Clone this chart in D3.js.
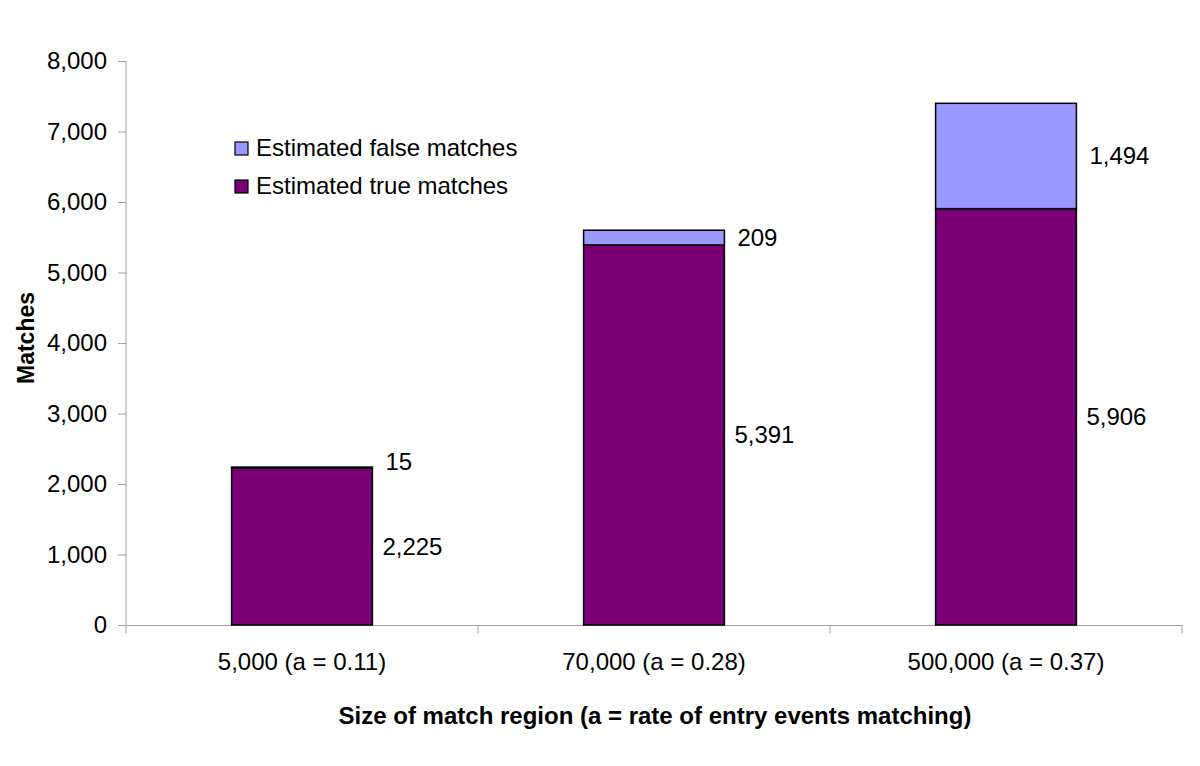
<!DOCTYPE html>
<html>
<head>
<meta charset="utf-8">
<script src="https://cdn.jsdelivr.net/npm/d3@7"></script>
<style>
  body { margin: 0; background: #fff; }
  svg { display: block; font-family: 'Liberation Sans', Arial, sans-serif; }
</style>
</head>
<body>
<div id="chart"></div>
<script>
/* ── DATA ── */
const categories   = ['5,000 (a = 0.11)', '70,000 (a = 0.28)', '500,000 (a = 0.37)'];
const trueMatches  = [2225, 5391, 5906];
const falseMatches = [15, 209, 1494];
const yTicks       = [0, 1000, 2000, 3000, 4000, 5000, 6000, 7000, 8000];
const seriesNames  = ['Estimated false matches', 'Estimated true matches'];

/* ── CONSTANTS ── */
const W = 1200, H = 766;
const MARGIN = { top: 61, right: 18, bottom: 141, left: 126 };
const TRUE_COLOR  = '#7b0078';
const FALSE_COLOR = '#9999ff';
const AXIS_COLOR  = '#a0a0a0';
const FONT_SIZE   = 24;

const innerW = W - MARGIN.left - MARGIN.right;
const innerH = H - MARGIN.top - MARGIN.bottom;

const svg = d3.select('#chart').append('svg').attr('width', W).attr('height', H);
const g   = svg.append('g').attr('transform', `translate(${MARGIN.left},${MARGIN.top})`);

const x = d3.scaleBand().domain(categories).range([0, innerW]).padding(0);
const y = d3.scaleLinear().domain([0, 8000]).range([innerH, 0]);
const barW = x.bandwidth() * 0.4;
const fmt = d3.format(',');

/* axes */
g.append('g').attr('transform', `translate(0,${innerH})`)
  .call(d3.axisBottom(x).tickSize(0).tickPadding(28))
  .call(ax => ax.select('.domain').attr('stroke', AXIS_COLOR))
  .call(ax => ax.selectAll('text').style('font-size', FONT_SIZE + 'px').attr('fill', '#000'));

// category boundary ticks on the x axis
g.append('g').selectAll('line')
  .data(d3.range(categories.length + 1))
  .join('line')
  .attr('x1', i => i * x.step()).attr('x2', i => i * x.step())
  .attr('y1', innerH).attr('y2', innerH + 8)
  .attr('stroke', AXIS_COLOR);

g.append('g')
  .call(d3.axisLeft(y).tickValues(yTicks).tickFormat(fmt).tickSize(8).tickPadding(11))
  .call(ax => ax.select('.domain').attr('stroke', AXIS_COLOR).attr('d', `M0,0V${innerH}`))
  .call(ax => ax.selectAll('line').attr('stroke', AXIS_COLOR))
  .call(ax => ax.selectAll('text').style('font-size', FONT_SIZE + 'px').attr('fill', '#000'));

/* bars */
const bars = g.append('g');
categories.forEach((c, i) => {
  const x0 = x(c) + (x.bandwidth() - barW) / 2;
  const t = trueMatches[i], f = falseMatches[i];
  bars.append('rect')
    .attr('x', x0).attr('y', y(t)).attr('width', barW).attr('height', y(0) - y(t))
    .attr('fill', TRUE_COLOR).attr('stroke', '#000').attr('stroke-width', 1.5);
  bars.append('rect')
    .attr('x', x0).attr('y', y(t + f)).attr('width', barW).attr('height', y(t) - y(t + f))
    .attr('fill', FALSE_COLOR).attr('stroke', '#000').attr('stroke-width', 1.5);

  // value labels, to the right of each segment
  const lx = x0 + barW + 10;
  g.append('text')
    .attr('x', lx).attr('y', y(t / 2)).attr('dy', '0.35em')
    .style('font-size', FONT_SIZE + 'px').text(fmt(t));
  g.append('text')
    .attr('x', lx + 3).attr('y', Math.min(y(t + f / 2), y(t) - 7)).attr('dy', '0.35em')
    .style('font-size', FONT_SIZE + 'px').text(fmt(f));
});

/* legend */
const legend = svg.append('g').attr('transform', 'translate(235,148)');
[FALSE_COLOR, TRUE_COLOR].forEach((col, i) => {
  const row = legend.append('g').attr('transform', `translate(0,${i * 38})`);
  row.append('rect').attr('x', 0).attr('y', -6).attr('width', 13).attr('height', 13)
    .attr('fill', col).attr('stroke', '#000').attr('stroke-width', 1.2);
  row.append('text').attr('x', 21).attr('y', 0).attr('dy', '0.35em')
    .style('font-size', FONT_SIZE + 'px').text(seriesNames[i]);
});

/* axis titles */
svg.append('text')
  .attr('transform', `translate(26,${MARGIN.top + innerH / 2 - 5}) rotate(-90)`)
  .attr('text-anchor', 'middle').attr('dy', '0.35em')
  .style('font-size', '23px').style('font-weight', 'bold')
  .text('Matches');

svg.append('text')
  .attr('x', 655).attr('y', 716).attr('dy', '0.35em')
  .attr('text-anchor', 'middle')
  .style('font-size', FONT_SIZE + 'px').style('font-weight', 'bold')
  .text('Size of match region (a = rate of entry events matching)');
</script>
</body>
</html>
